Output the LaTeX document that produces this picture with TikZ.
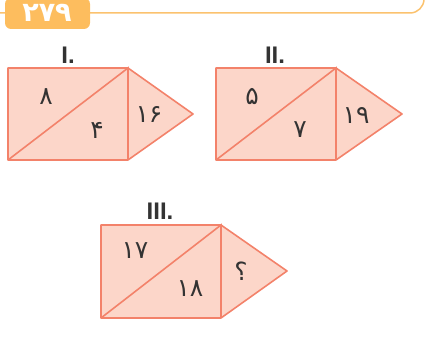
\documentclass[tikz,border=0pt]{standalone}
\usepackage{fontspec}
\setmainfont{DejaVu Sans}
\newfontfamily\arabicfont[Script=Arabic]{DejaVu Sans}
\newfontfamily\latinsans{Liberation Sans}
\definecolor{shapefill}{HTML}{FCD6C9}
\definecolor{shapeline}{HTML}{F3826A}
\definecolor{badge}{HTML}{FDBD5E}
\definecolor{hline}{HTML}{FBC26E}
\definecolor{labeltxt}{HTML}{333333}
\tikzset{
  piece/.style={fill=shapefill,draw=shapeline,line width=1.6pt,line join=round},
  cut/.style={draw=shapeline,line width=1.6pt},
  num/.style={font=\arabicfont\fontsize{25}{25}\selectfont,text=labeltxt,inner sep=0pt},
  roman/.style={font=\latinsans\bfseries\fontsize{24}{24}\selectfont,text=labeltxt,inner sep=0pt}
}
\begin{document}
\begin{tikzpicture}[x=1pt,y=-1pt]
\useasboundingbox (0,0) rectangle (426,344);
% header line
\draw[hline,line width=1.5pt] (0,13) -- (410,13) arc[start angle=90,end angle=0,radius=14];
\fill[badge,rounded corners=6pt] (5,-2) rectangle (90,29);
\node[font=\arabicfont\bfseries\fontsize{27}{27}\selectfont,text=white,inner sep=0pt] (badgetxt) at (47,13) {۲۷۹};
% Figure I
\coordinate (a1) at (8,68); \coordinate (b1) at (128,68); \coordinate (c1) at (128,160); \coordinate (d1) at (8,160); \coordinate (e1) at (193,114);
\draw[piece] (a1) -- (b1) -- (e1) -- (c1) -- (d1) -- cycle;
\draw[cut] (d1) -- (b1) -- (c1);
\node[roman] (r1) at (68,55) {I.};
\node[num] (n1a) at (46,97) {۸};
\node[num] (n1b) at (97,130) {۴};
\node[num] (n1c) at (149,115) {۱۶};
% Figure II
\coordinate (a2) at (216,68); \coordinate (b2) at (336,68); \coordinate (c2) at (336,160); \coordinate (d2) at (216,160); \coordinate (e2) at (402,114);
\draw[piece] (a2) -- (b2) -- (e2) -- (c2) -- (d2) -- cycle;
\draw[cut] (d2) -- (b2) -- (c2);
\node[roman] (r2) at (275,55) {II.};
\node[num] (n2a) at (252,97) {۵};
\node[num] (n2b) at (300,130) {۷};
\node[num] (n2c) at (356,116) {۱۹};
% Figure III
\coordinate (a3) at (101,225); \coordinate (b3) at (221,225); \coordinate (c3) at (221,318); \coordinate (d3) at (101,318); \coordinate (e3) at (287,271);
\draw[piece] (a3) -- (b3) -- (e3) -- (c3) -- (d3) -- cycle;
\draw[cut] (d3) -- (b3) -- (c3);
\node[roman] (r3) at (160,211) {III.};
\node[num] (n3a) at (135,251) {۱۷};
\node[num] (n3b) at (190,289) {۱۸};
\node[num] (n3c) at (241,271) {؟};
\end{tikzpicture}
\end{document}
